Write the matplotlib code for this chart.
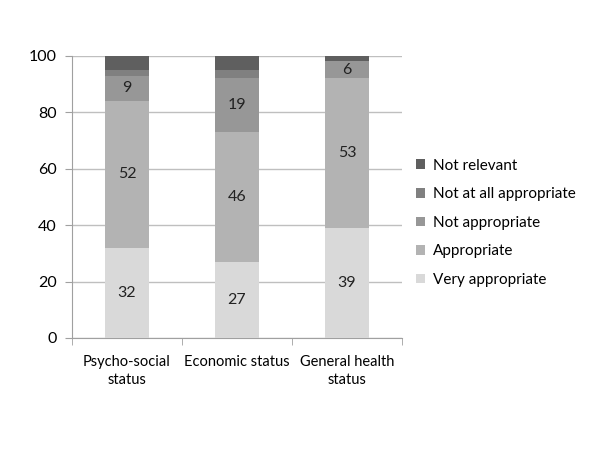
import matplotlib
matplotlib.use("Agg")
import matplotlib.pyplot as plt
import numpy as np

plt.rcParams['font.family'] = ['Lato', 'DejaVu Sans']

categories = ["Psycho-social\nstatus", "Economic status", "General health\nstatus"]
series_names = ["Very appropriate", "Appropriate", "Not appropriate",
                "Not at all appropriate", "Not relevant"]
very_appropriate = [32, 27, 39]
appropriate = [52, 46, 53]
not_appropriate = [9, 19, 6]
not_at_all = [2, 3, 0]
not_relevant = [5, 5, 2]
labeled = [True, True, True, False, False]
colors = ["#d9d9d9", "#b3b3b3", "#979797", "#808080", "#5f5f5f"]

data = [very_appropriate, appropriate, not_appropriate, not_at_all, not_relevant]

fs = 11

fig = plt.figure(figsize=(6, 4.5), dpi=100)
ax = fig.add_axes([0.12, 0.249, 0.55, 0.627])
x = np.arange(len(categories))
bottom = np.zeros(len(categories))
handles = []
for vals, name, col, lab in zip(data, series_names, colors, labeled):
    vals = np.array(vals, dtype=float)
    b = ax.bar(x, vals, 0.4, bottom=bottom, color=col, label=name, zorder=3)
    handles.append(b)
    if lab:
        for xi, v, bt in zip(x, vals, bottom):
            if v > 0:
                ax.text(xi, bt + v / 2, f"{int(v)}", ha='center', va='center',
                        fontsize=11.5, color='#222222', zorder=4)
    bottom += vals

ax.set_xlim(-0.5, 2.5)
ax.set_ylim(0, 100)
ax.set_yticks(range(0, 101, 20))
ax.yaxis.grid(True, color='#bfbfbf', linewidth=1, zorder=0)
ax.set_axisbelow(True)
for s in ['top', 'right']:
    ax.spines[s].set_visible(False)
for s in ['left', 'bottom']:
    ax.spines[s].set_color('#a0a0a0')
ax.set_xticks(x)
ax.set_xticklabels(categories, fontsize=10.5, linespacing=1.4)
ax.tick_params(axis='x', which='major', length=0, pad=12)
ax.set_xticks([-0.5, 0.5, 1.5, 2.5], minor=True)
ax.tick_params(axis='x', which='minor', length=5, color='#a0a0a0', direction='out')
ax.tick_params(axis='y', length=5, color='#a0a0a0', labelsize=11.5, pad=6)

leg = fig.legend(handles[::-1], series_names[::-1], loc='center left',
                 bbox_to_anchor=(0.67, 0.505), frameon=False, fontsize=fs,
                 handlelength=0.6, handleheight=0.6, handletextpad=0.5,
                 labelspacing=0.95)

fig.savefig("out.png", dpi=100)
